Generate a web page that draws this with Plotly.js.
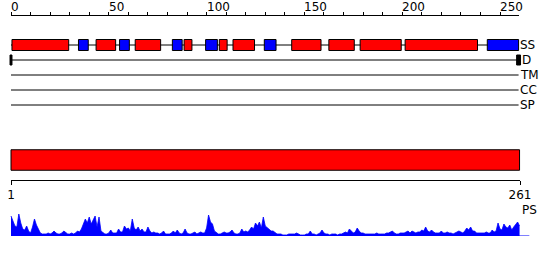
<!DOCTYPE html>
<html>
<head>
<meta charset="utf-8">
<script src="https://cdn.plot.ly/plotly-3.0.1.min.js"></script>
<style>html,body{margin:0;padding:0;background:#fff;}#chart{width:550px;height:260px;}</style>
</head>
<body>
<div id="chart"></div>
<script>
// ---- data ----
var seqLength = 261;
var rulerTicks = [0, 50, 100, 150, 200, 250];
var rulerLabels = ['0', '50', '100', '150', '200', '250'];
var endLabels = ['1', '261'];
var trackNames = ['SS', 'D', 'TM', 'CC', 'SP'];

// secondary structure (residue ranges)
var helixStart = [2, 45, 65, 90, 108, 115, 145, 164, 180, 203];
var helixEnd   = [30, 54, 77, 93, 111, 125, 159, 176, 200, 239];
var strandStart = [36, 57, 84, 101, 131, 245];
var strandEnd   = [40, 61, 88, 106, 136, 260];

// disordered residues
var disorderStart = [1, 260];
var disorderEnd   = [1, 261];

// domain
var domainStart = [1];
var domainEnd = [261];

// profile (PS) per residue
var psValues = [
  20, 14, 10, 9, 22, 13, 7, 6, 10, 5,
  3, 9, 17, 11, 6, 3, 2, 2, 2, 3,
  2, 3, 5, 3, 2, 2, 3, 5, 3, 2,
  2, 3, 2, 3, 5, 4, 7, 12, 17, 13,
  19, 12, 16, 20, 9, 19, 5, 3, 2, 2,
  3, 6, 3, 3, 3, 7, 4, 4, 10, 7,
  8, 5, 17, 8, 6, 9, 5, 7, 4, 4,
  9, 5, 3, 4, 3, 3, 2, 3, 5, 2,
  2, 2, 3, 5, 3, 6, 3, 2, 3, 7,
  3, 2, 2, 3, 4, 2, 3, 4, 3, 3,
  8, 21, 14, 12, 5, 3, 2, 2, 3, 4,
  3, 3, 4, 6, 3, 2, 2, 3, 7, 4,
  5, 4, 6, 9, 7, 13, 10, 14, 8, 19,
  10, 8, 6, 5, 5, 3, 2, 2, 2, 1,
  1, 1, 2, 2, 2, 2, 3, 2, 1, 1,
  1, 2, 2, 5, 2, 2, 1, 2, 3, 6,
  3, 2, 2, 1, 2, 2, 2, 1, 2, 2,
  3, 4, 3, 7, 5, 3, 4, 8, 5, 3,
  3, 2, 2, 2, 2, 2, 2, 3, 2, 2,
  2, 2, 3, 3, 4, 5, 3, 2, 2, 3,
  3, 3, 4, 5, 3, 5, 4, 3, 4, 4,
  6, 5, 9, 5, 4, 6, 4, 3, 3, 3,
  5, 3, 3, 4, 3, 3, 2, 3, 4, 5,
  4, 3, 5, 8, 6, 9, 5, 5, 3, 3,
  3, 3, 3, 4, 3, 3, 6, 4, 5, 13,
  7, 6, 12, 9, 8, 11, 6, 9, 12, 14, 10
];
var psBaselineEnd = 266;

// ---- layout constants (pixels) ----
var W = 550, H = 260;
var x0px = 11, pxPerRes = 1.956;
var rowY = {SS: 45, D: 60, TM: 75, CC: 90, SP: 105};
var domainY = 160, domainH = 20.5;
var trackEnd = 260.5;
var FONT = {family: 'DejaVu Sans, sans-serif', size: 12, color: '#000'};

var residues = psValues.map(function (v, i) { return i + 1; });

function boxes(starts, ends, yc, h, color, pad) {
  var xs = [], ys = [];
  for (var i = 0; i < starts.length; i++) {
    var a = starts[i] - pad, b = ends[i] + pad;
    xs.push(a, b, b, a, a, null);
    ys.push(yc - h / 2, yc - h / 2, yc + h / 2, yc + h / 2, yc - h / 2, null);
  }
  return {type: 'scatter', mode: 'lines', x: xs, y: ys, fill: 'toself',
    fillcolor: color, line: {color: '#000', width: 1}, hoverinfo: 'skip',
    xaxis: 'x', yaxis: 'y'};
}

var traces = [];
// track lines
trackNames.forEach(function (n) {
  traces.push({type: 'scatter', mode: 'lines', x: [1, trackEnd], y: [rowY[n], rowY[n]],
    line: {color: '#000', width: 1}, hoverinfo: 'skip', xaxis: 'x', yaxis: 'y'});
});
traces.push(boxes(helixStart, helixEnd, rowY.SS, 11, '#ff0000', 0.5));
traces.push(boxes(strandStart, strandEnd, rowY.SS, 11, '#0000ff', 0.5));
traces.push(boxes(disorderStart, disorderEnd, rowY.D, 10, '#000000', 0.5));
traces.push(boxes(domainStart, domainEnd, domainY, domainH, '#ff0000', 0));

// profile
traces.push({type: 'scatter', mode: 'lines', x: [1, psBaselineEnd], y: [0, 0],
  line: {color: '#0000ff', width: 1}, hoverinfo: 'skip', xaxis: 'x', yaxis: 'y2'});
traces.push({type: 'scatter', mode: 'lines', x: residues, y: psValues, fill: 'tozeroy',
  fillcolor: '#0000ff', line: {color: '#0000ff', width: 0.8}, hoverinfo: 'skip',
  xaxis: 'x', yaxis: 'y2'});

// invisible anchors for rulers
traces.push({type: 'scatter', mode: 'markers', x: [0], y: [-50], marker: {opacity: 0},
  hoverinfo: 'skip', xaxis: 'x2', yaxis: 'y'});
traces.push({type: 'scatter', mode: 'markers', x: [1], y: [-50], marker: {opacity: 0},
  hoverinfo: 'skip', xaxis: 'x3', yaxis: 'y'});

var xLeft = 1 - x0px / pxPerRes;
var xRight = 1 + (W - x0px) / pxPerRes;

var annotations = [];
rulerTicks.forEach(function (v, i) {
  annotations.push({xref: 'x2', yref: 'y', x: v, y: 7, text: rulerLabels[i],
    xanchor: 'left', yanchor: 'middle', xshift: -2, showarrow: false, font: FONT});
});
trackNames.forEach(function (n) {
  annotations.push({xref: 'x', yref: 'y', x: n === 'D' ? 261 : 260, y: rowY[n], text: n,
    xanchor: 'left', yanchor: 'middle', showarrow: false, font: FONT});
});
annotations.push({xref: 'paper', yref: 'y', x: 520 / W, y: 210, text: 'PS',
  xanchor: 'left', yanchor: 'middle', showarrow: false, font: FONT});

var layout = {
  width: W, height: H,
  margin: {l: 0, r: 0, t: 0, b: 0, pad: 0},
  paper_bgcolor: '#fff', plot_bgcolor: 'rgba(0,0,0,0)',
  showlegend: false,
  font: FONT,
  xaxis: {domain: [0, 1], range: [xLeft, xRight], visible: false, fixedrange: true},
  yaxis: {domain: [0, 1], range: [H, 0], visible: false, fixedrange: true},
  yaxis2: {domain: [24 / H, 48 / H], range: [0, 24], visible: false, anchor: 'x', fixedrange: true},
  xaxis2: {domain: [x0px / W, 519 / W], range: [0, (519 - x0px) / pxPerRes],
    anchor: 'free', position: (H - 15) / H, side: 'top',
    showline: true, linecolor: '#000', linewidth: 1,
    ticks: 'outside', ticklen: 3, tickwidth: 1, tickcolor: '#000',
    tick0: 0, dtick: 10, showticklabels: false, showgrid: false, zeroline: false, fixedrange: true},
  xaxis3: {domain: [x0px / W, 520 / W], range: [1, seqLength],
    anchor: 'free', position: (H - 180) / H, side: 'bottom',
    showline: true, linecolor: '#000', linewidth: 1,
    ticks: 'outside', ticklen: 4, tickwidth: 1, tickcolor: '#000',
    tickmode: 'array', tickvals: [1, seqLength], ticktext: endLabels,
    tickfont: FONT, showgrid: false, zeroline: false, fixedrange: true},
  annotations: annotations
};

Plotly.newPlot('chart', traces, layout, {staticPlot: true, displayModeBar: false});
</script>
</body>
</html>
